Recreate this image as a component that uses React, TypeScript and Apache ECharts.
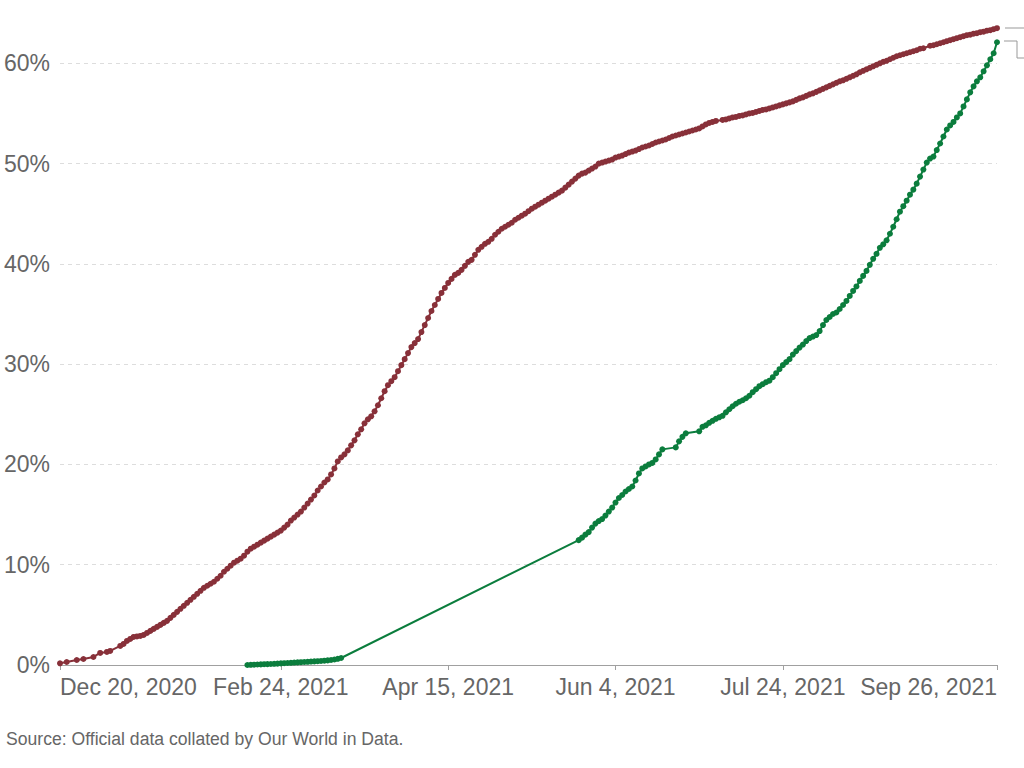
import React, { useEffect, useRef } from "react";
import * as echarts from "echarts";

const START_DATE = "2020-12-20";
const DAY_COUNT = 281;
const TICK_LABELS = ["Dec 20, 2020", "Feb 24, 2021", "Apr 15, 2021", "Jun 4, 2021", "Jul 24, 2021", "Sep 26, 2021"];
const Y_TICKS = [0, 10, 20, 30, 40, 50, 60];

// share of people with at least one dose (%), daily from Dec 20, 2020
const atLeastOneDose: (number | null)[] = [
  0.17, null, 0.3, null, null, 0.5, null, 0.6, null, null,
  0.8, null, 1.2, null, 1.3, 1.4, null, null, 1.9, 2.1,
  2.4, 2.6, 2.8, 2.85, 2.9, 3.0, 3.2, 3.4, 3.6, 3.8,
  4.0, 4.2, 4.4, 4.7, 5.0, 5.3, 5.6, 5.9, 6.2, 6.5,
  6.8, 7.1, 7.4, 7.7, 7.9, 8.1, 8.3, 8.6, 8.9, 9.3,
  9.6, 9.9, 10.2, 10.4, 10.6, 10.9, 11.3, 11.6, 11.8, 12.0,
  12.2, 12.4, 12.6, 12.8, 13.0, 13.2, 13.4, 13.7, 14.0, 14.4,
  14.7, 15.0, 15.3, 15.7, 16.1, 16.5, 16.9, 17.4, 17.8, 18.2,
  18.5, 19.0, 19.6, 20.3, 20.7, 21.0, 21.4, 21.9, 22.4, 23.0,
  23.5, 24.1, 24.5, 24.8, 25.3, 25.9, 26.6, 27.3, 27.9, 28.3,
  28.7, 29.3, 29.9, 30.5, 31.1, 31.7, 32.1, 32.5, 33.2, 33.9,
  34.6, 35.3, 35.9, 36.5, 37.1, 37.6, 38.1, 38.5, 38.9, 39.1,
  39.4, 39.8, 40.2, 40.4, 40.9, 41.4, 41.7, 42.0, 42.2, 42.5,
  42.9, 43.2, 43.5, 43.7, 43.9, 44.1, 44.4, 44.6, 44.8, 45.0,
  45.25, 45.5, 45.7, 45.9, 46.1, 46.3, 46.5, 46.7, 46.9, 47.1,
  47.3, 47.6, 47.9, 48.2, 48.5, 48.8, 49.0, 49.1, 49.3, 49.5,
  49.7, 50.0, 50.1, 50.2, 50.3, 50.4, 50.6, 50.7, 50.8, 50.95,
  51.1, 51.2, 51.3, 51.45, 51.6, 51.7, 51.8, 51.95, 52.1, 52.2,
  52.3, 52.4, 52.55, 52.7, 52.8, 52.9, 53.0, 53.1, 53.2, 53.3,
  53.4, 53.5, 53.7, 53.9, 54.05, 54.15, 54.25, null, 54.35, 54.4,
  54.5, 54.6, 54.65, 54.75, 54.8, 54.9, 55.0, 55.05, 55.15, 55.25,
  55.35, 55.4, 55.5, 55.6, 55.7, 55.8, 55.9, 56.0, 56.1, 56.2,
  56.35, 56.5, 56.6, 56.75, 56.9, 57.0, 57.15, 57.3, 57.45, 57.6,
  57.75, 57.9, 58.05, 58.2, 58.3, 58.45, 58.6, 58.75, 58.9, 59.1,
  59.25, 59.4, 59.55, 59.7, 59.85, 60.0, 60.15, 60.25, 60.4, 60.55,
  60.7, 60.8, 60.9, 61.0, 61.1, 61.2, 61.3, 61.45, 61.5, null,
  61.75, 61.8, 61.9, 62.0, 62.1, 62.2, 62.3, 62.4, 62.5, 62.6,
  62.7, 62.8, 62.85, 62.95, 63.0, 63.1, 63.15, 63.25, 63.3, 63.4,
  63.5,
];

// share of people fully vaccinated (%), daily from Dec 20, 2020
const fullyVaccinated: (number | null)[] = [
  ...Array(56).fill(null),
  0.0, 0.02, 0.03, 0.05, 0.06, 0.08, 0.09, 0.1, 0.12, 0.14,
  0.16, 0.18, 0.2, 0.22, 0.24, 0.26, 0.28, 0.3, 0.32, 0.34,
  0.36, 0.38, 0.4, 0.43, 0.46, 0.5, 0.55, 0.62, 0.7,
  ...Array(70).fill(null),
  12.45, 12.7, 13.0, 13.25, 13.7,
  14.1, 14.35, 14.55, 14.9, 15.3, 15.7, 16.2, 16.65, 16.95, 17.3,
  17.55, 17.8, 18.4, 19.1, 19.6, 19.8, 20.0, 20.15, 20.5, 21.0,
  21.5, null, null, null, 21.7, 22.3, 22.75, 23.1, null, null,
  null, 23.3, 23.75, 23.9, 24.15, 24.35, 24.55, 24.7, 24.85, 25.2,
  25.5, 25.8, 26.05, 26.25, 26.4, 26.6, 26.85, 27.2, 27.5, 27.8,
  28.0, 28.2, 28.35, 28.7, 29.1, 29.5, 29.9, 30.2, 30.5, 30.95,
  31.3, 31.65, 31.95, 32.3, 32.6, 32.75, 32.9, 33.3, 33.9, 34.4,
  34.7, 35.0, 35.15, 35.5, 35.9, 36.3, 36.8, 37.3, 37.75, 38.3,
  38.8, 39.3, 39.9, 40.5, 41.0, 41.6, 41.95, 42.35, 43.0, 43.7,
  44.45, 45.2, 45.75, 46.3, 46.9, 47.4, 48.0, 48.7, 49.4, 50.1,
  50.5, 50.7, 51.35, 52.0, 52.7, 53.4, 53.8, 54.15, 54.6, 55.0,
  55.7, 56.4, 57.1, 57.7, 58.2, 58.6, 59.2, 59.8, 60.4, 61.0,
  62.1,
];

const MONTHS = ["Jan", "Feb", "Mar", "Apr", "May", "Jun", "Jul", "Aug", "Sep", "Oct", "Nov", "Dec"];

function buildCategories(): string[] {
  const start = new Date(START_DATE + "T00:00:00Z").getTime();
  const out: string[] = [];
  for (let i = 0; i < DAY_COUNT; i++) {
    const d = new Date(start + i * 86400000);
    out.push(`${MONTHS[d.getUTCMonth()]} ${d.getUTCDate()}, ${d.getUTCFullYear()}`);
  }
  return out;
}

const RED = "#883039";
const GREEN = "#0b7d3d";
const FONT = "Liberation Sans, Arial, sans-serif";
// the chart canvas is shifted up so that the 70% gridline sits above the visible page
const OFFSET = 37;

export default function App() {
  const ref = useRef<HTMLDivElement>(null);

  useEffect(() => {
    if (!ref.current) return;
    const chart = echarts.init(ref.current, undefined, { renderer: "svg" });
    const categories = buildCategories();
    const tickSet = new Set(TICK_LABELS);
    const showTick = (_i: number, v: string) => tickSet.has(v);

    chart.setOption({
      animation: false,
      backgroundColor: "#ffffff",
      textStyle: { fontFamily: FONT },
      grid: { left: 60, right: 27, top: 0, bottom: 103, containLabel: false },
      xAxis: {
        type: "category",
        data: categories,
        boundaryGap: false,
        axisLine: { lineStyle: { color: "#a0a0a0", width: 1 } },
        axisTick: {
          show: true,
          interval: showTick,
          length: 5,
          lineStyle: { color: "#a0a0a0" },
        },
        axisLabel: {
          interval: showTick,
          color: "#666666",
          fontSize: 23,
          margin: 10,
          fontFamily: FONT,
          alignMinLabel: "left",
          alignMaxLabel: "right",
          showMinLabel: true,
          showMaxLabel: true,
        },
        splitLine: { show: false },
      },
      yAxis: {
        type: "value",
        min: 0,
        max: 70,
        interval: 10,
        axisLine: { show: false },
        axisTick: { show: false },
        axisLabel: {
          color: "#666666",
          fontSize: 23,
          margin: 10,
          fontFamily: FONT,
          formatter: (v: number) => (Y_TICKS.includes(v) ? `${v}%` : ""),
        },
        splitLine: { lineStyle: { color: "#dddddd", type: [4, 4], width: 1 } },
      },
      series: [
        {
          name: "At least one dose",
          type: "line",
          data: atLeastOneDose,
          connectNulls: true,
          clip: false,
          symbol: "circle",
          symbolSize: 6,
          showAllSymbol: true,
          lineStyle: { color: RED, width: 2 },
          itemStyle: { color: RED },
          z: 3,
        },
        {
          name: "Fully vaccinated",
          type: "line",
          data: fullyVaccinated,
          connectNulls: true,
          clip: false,
          symbol: "circle",
          symbolSize: 6,
          showAllSymbol: true,
          lineStyle: { color: GREEN, width: 2 },
          itemStyle: { color: GREEN },
          z: 4,
        },
      ],
      graphic: [
        {
          type: "polyline",
          shape: { points: [[1005, 28 + OFFSET], [1024, 28 + OFFSET]] },
          style: { stroke: "#999999", lineWidth: 1, fill: "none" },
        },
        {
          type: "polyline",
          shape: { points: [[1004, 41 + OFFSET], [1017, 41 + OFFSET], [1017, 58 + OFFSET], [1024, 58 + OFFSET]] },
          style: { stroke: "#999999", lineWidth: 1, fill: "none" },
        },
        {
          type: "text",
          left: 6,
          top: 730 + OFFSET,
          style: {
            text: "Source: Official data collated by Our World in Data.",
            fill: "#666666",
            fontSize: 17.6,
            fontFamily: FONT,
          },
        },
      ],
    });

    return () => chart.dispose();
  }, []);

  return (
    <div
      ref={ref}
      style={{ position: "absolute", left: 0, top: -OFFSET, width: 1024, height: 768 + OFFSET, background: "#fff" }}
    />
  );
}
